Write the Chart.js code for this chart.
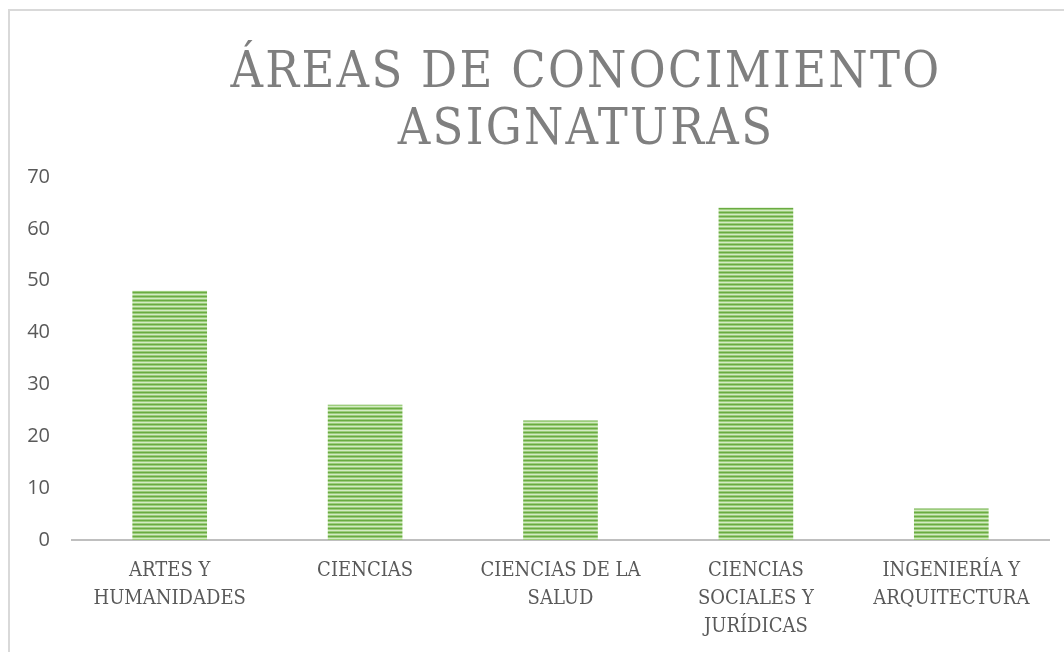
<!DOCTYPE html>
<html>
<head>
<meta charset="utf-8">
<script src="https://cdn.jsdelivr.net/npm/chart.js@4.4.1/dist/chart.umd.min.js"></script>
<style>
  html, body { margin: 0; padding: 0; background: #ffffff; overflow: hidden; }
  #wrap { position: relative; width: 1064px; height: 652px; overflow: hidden; }
  #frame { position: absolute; left: 8px; top: 9px; width: 1200px; height: 800px;
           border-left: 2px solid #D9D9D9; border-top: 2px solid #D9D9D9; box-sizing: border-box; }
  #holder { position: absolute; left: 0; top: 0; width: 1172px; height: 652px; }
</style>
</head>
<body>
<div id="wrap">
  <div id="frame"></div>
  <div id="holder"><canvas id="c" width="1172" height="652"></canvas></div>
</div>
<script>
const titleLines = ["ÁREAS DE CONOCIMIENTO", "ASIGNATURAS"];
const categories = [
  ["ARTES Y", "HUMANIDADES"],
  ["CIENCIAS"],
  ["CIENCIAS DE LA", "SALUD"],
  ["CIENCIAS", "SOCIALES Y", "JURÍDICAS"],
  ["INGENIERÍA Y", "ARQUITECTURA"]
];
const values = [48, 26, 23, 64, 6];
const yTicks = [0, 10, 20, 30, 40, 50, 60, 70];

function stripePattern() {
  const p = document.createElement('canvas');
  p.width = 4; p.height = 4;
  const g = p.getContext('2d');
  const rows = ['#6AAB42', '#9CCD7C', '#D3EBC3', '#9CCD7C'];
  rows.forEach((c, i) => { g.fillStyle = c; g.fillRect(0, i, 4, 1); });
  return document.getElementById('c').getContext('2d').createPattern(p, 'repeat');
}

const spacingPlugin = {
  id: 'titleSpacing',
  beforeDraw(chart) { chart.ctx.letterSpacing = '2.3px'; },
  beforeDatasetsDraw(chart) { chart.ctx.letterSpacing = '0px'; },
  afterDraw(chart) { chart.ctx.letterSpacing = '0px'; }
};

new Chart(document.getElementById('c'), {
  type: 'bar',
  data: {
    labels: categories,
    datasets: [{
      data: values,
      backgroundColor: stripePattern(),
      borderWidth: 0,
      barThickness: 74
    }]
  },
  options: {
    responsive: false,
    animation: false,
    layout: { padding: 0 },
    plugins: {
      legend: { display: false },
      tooltip: { enabled: false },
      title: {
        display: true,
        text: titleLines,
        color: '#7F7F7F',
        font: { family: '"DejaVu Serif Condensed", "DejaVu Serif", serif', size: 50, weight: 'normal', lineHeight: 1.14 },
        padding: { top: 46, bottom: 17 }
      }
    },
    scales: {
      x: {
        grid: { display: false, drawTicks: false },
        border: { display: true, color: '#BFBFBF', width: 2 },
        ticks: {
          z: 1,
          color: '#595959',
          padding: 17,
          maxRotation: 0,
          autoSkip: false,
          font: { family: '"DejaVu Serif Condensed", "DejaVu Serif", serif', size: 20, lineHeight: 1.4 }
        },
        afterFit(s) { s.height = 112; }
      },
      y: {
        min: 0, max: 70,
        afterBuildTicks(s) { s.ticks = yTicks.map(v => ({ value: v })); },
        grid: { display: false, drawTicks: false },
        border: { display: false },
        ticks: {
          z: 1,
          color: '#595959',
          padding: 22,
          font: { family: '"Open Sans", "Noto Sans", sans-serif', size: 20 }
        },
        afterFit(s) { s.width = 72; }
      },
      spacer: {
        position: 'right',
        display: true,
        grid: { display: false, drawTicks: false },
        border: { display: false },
        ticks: { display: false },
        afterFit(s) { s.width = 123; }
      }
    }
  },
  plugins: [spacingPlugin]
});
</script>
</body>
</html>
